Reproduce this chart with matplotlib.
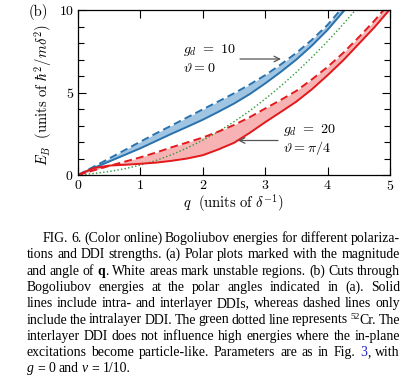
import re
import numpy as np
import matplotlib
matplotlib.use("Agg")
import matplotlib.pyplot as plt

plt.rcParams['mathtext.fontset'] = 'cm'
plt.rcParams['font.family'] = 'serif'
plt.rcParams['font.serif'] = ['cmr10', 'DejaVu Serif']
plt.rcParams['axes.formatter.use_mathtext'] = True
plt.rcParams['axes.unicode_minus'] = False

# ---------------- data ----------------
q = [0.0, 0.25, 0.5, 0.75, 1.0, 1.25, 1.5, 1.75, 2.0, 2.25, 2.5,
     2.75, 3.0, 3.25, 3.5, 3.75, 4.0, 4.25, 4.5, 4.75, 5.0]
blue_dashed = [0, 0.50, 1.00, 1.51, 2.02, 2.52, 3.00, 3.49, 3.98, 4.46, 4.95,
               5.48, 6.05, 6.70, 7.40, 8.20, 9.10, 10.20, 11.3, 12.5, 13.8]
blue_solid = [0, 0.42, 0.82, 1.22, 1.62, 2.06, 2.50, 2.92, 3.35, 3.83, 4.33,
              4.90, 5.55, 6.25, 7.00, 7.85, 8.80, 9.90, 11.0, 12.2, 13.5]
green_dotted = [0, 0.09, 0.21, 0.38, 0.60, 0.88, 1.23, 1.64, 2.11, 2.63, 3.23,
                3.88, 4.61, 5.39, 6.23, 7.14, 8.11, 9.14, 10.23, 11.4, 12.6]
red_dashed = [0, 0.28, 0.55, 0.81, 1.07, 1.36, 1.68, 1.97, 2.27, 2.63, 3.03,
              3.50, 4.03, 4.55, 5.10, 5.80, 6.55, 7.40, 8.35, 9.35, 10.45]
red_solid = [0, 0.42, 0.57, 0.62, 0.68, 0.75, 0.86, 1.00, 1.20, 1.55, 1.95,
             2.55, 3.20, 3.82, 4.45, 5.20, 6.05, 6.95, 7.95, 8.95, 10.05]

x_ticks = [0, 1, 2, 3, 4, 5]
y_ticks = [0, 5, 10]

caption_lines = [
    "FIG. 6. (Color online) Bogoliubov energies for different polariza-",
    "tions and DDI strengths. (a) Polar plots marked with the magnitude",
    "and angle of **q**. White areas mark unstable regions. (b) Cuts through",
    "Bogoliubov energies at the polar angles indicated in (a). Solid",
    "lines include intra- and interlayer DDIs, whereas dashed lines only",
    "include the intralayer DDI. The green dotted line represents ^52^Cr. The",
    "interlayer DDI does not influence high energies where the in-plane",
    "excitations become particle-like. Parameters are as in Fig. {3}, with",
    "*g* = 0 and *\u03bd* = 1/10.",
]

# ---------------- figure ----------------
W, H = 411, 380
fig = plt.figure(figsize=(W / 100, H / 100), dpi=100)
ax = fig.add_axes([78 / W, 1 - 175 / H, 312 / W, 165 / H])

BLUE = '#2a72ad'
BLUE_F = '#9fc5e2'
RED = '#e3191c'
RED_F = '#f7b3b3'
GREEN = '#2a9a3a'

ax.fill_between(q, blue_solid, blue_dashed, color=BLUE_F, lw=0)
ax.fill_between(q, red_solid, red_dashed, color=RED_F, lw=0)
ax.plot(q, green_dotted, ls=(0, (1, 1.6)), color=GREEN, lw=1.0)
ax.plot(q, blue_solid, color=BLUE, lw=1.4)
ax.plot(q, blue_dashed, color=BLUE, lw=1.4, ls=(0, (4, 2.2)))
ax.plot(q, red_solid, color=RED, lw=1.4)
ax.plot(q, red_dashed, color=RED, lw=1.4, ls=(0, (4, 2.2)))

ax.set_xlim(0, 5)
ax.set_ylim(0, 10)
ax.set_xticks(x_ticks)
ax.set_yticks(y_ticks)
ax.set_yticks(range(0, 11), minor=True)
ax.tick_params(which='both', direction='in', top=True, right=True,
               labelsize=10, pad=3, width=0.8)
ax.tick_params(which='major', length=6)
ax.tick_params(which='minor', length=4)
for s in ax.spines.values():
    s.set_linewidth(0.9)

fig.text(43 / W, 1 - 95 / H, r"$E_B\ \ (\mathrm{units\ of\ }\hbar^2/m\delta^2)$",
         rotation=90, ha='center', va='center', fontsize=10.5)
fig.text(234 / W, 1 - 203 / H, r"$q\ \ (\mathrm{units\ of\ }\delta^{-1})$",
         ha='center', va='center', fontsize=10.5)
fig.text(38 / W, 1 - 12 / H, "(b)", ha='center', va='center', fontsize=10.5)

fig.text(183 / W, 1 - 50 / H, r"$g_d\ =\ 10$", ha='left', va='center', fontsize=10.2)
fig.text(183 / W, 1 - 68 / H, r"$\vartheta = 0$", ha='left', va='center', fontsize=10.2)
fig.text(283 / W, 1 - 130 / H, r"$g_d\ =\ 20$", ha='left', va='center', fontsize=10.2)
fig.text(283 / W, 1 - 148 / H, r"$\vartheta = \pi/4$", ha='left', va='center', fontsize=10.2)
ax.annotate("", xy=(281 / W, 1 - 59 / H), xytext=(240 / W, 1 - 59 / H),
            xycoords='figure fraction', textcoords='figure fraction',
            arrowprops=dict(arrowstyle='->', color='#555555', lw=0.9,
                            shrinkA=0, shrinkB=0))
ax.annotate("", xy=(238 / W, 1 - 140.5 / H), xytext=(278 / W, 1 - 140.5 / H),
            xycoords='figure fraction', textcoords='figure fraction',
            arrowprops=dict(arrowstyle='->', color='#555555', lw=0.9,
                            shrinkA=0, shrinkB=0))

# ---------------- caption (justified) ----------------
CAP_FONT = 'Liberation Serif'
CAP_SIZE = 9.9
renderer = fig.canvas.get_renderer()
pat = re.compile(r'(\*\*[^*]+\*\*|\*[^*]+\*|\^[^^]+\^|\{[^}]+\})')


def segments(word):
    out = []
    for part in pat.split(word):
        if not part:
            continue
        if part.startswith('**'):
            out.append((part[2:-2], dict(weight='bold')))
        elif part.startswith('*'):
            out.append((part[1:-1], dict(style='italic')))
        elif part.startswith('^'):
            out.append((part[1:-1], dict(size=CAP_SIZE * 0.68, dy=4.5)))
        elif part.startswith('{'):
            out.append((part[1:-1], dict(color='#2020c0')))
        else:
            out.append((part, {}))
    return out


def make_word(word):
    items = []
    width = 0.0
    for txt, props in segments(word):
        p = dict(props)
        dy = p.pop('dy', 0)
        size = p.pop('size', CAP_SIZE)
        t = fig.text(0, 0, txt, fontsize=size, family=CAP_FONT,
                     ha='left', va='baseline', **p)
        w = t.get_window_extent(renderer).width
        items.append((t, width, dy))
        width += w
    return items, width


sp = fig.text(0, 0, "a a", family=CAP_FONT, fontsize=CAP_SIZE)
sp2 = fig.text(0, 0, "aa", family=CAP_FONT, fontsize=CAP_SIZE)
space_w = sp.get_window_extent(renderer).width - sp2.get_window_extent(renderer).width
sp.remove()
sp2.remove()

LEFT, RIGHT = 26.5, 400.0
base0, lh = 242.0, 16.3
for i, line in enumerate(caption_lines):
    x0 = 43.0 if i == 0 else LEFT
    words = [make_word(w) for w in line.split(' ')]
    total = sum(w for _, w in words)
    last = i == len(caption_lines) - 1
    gap = space_w if last else (RIGHT - x0 - total) / (len(words) - 1)
    x = x0
    yb = base0 + i * lh
    for items, w in words:
        for t, off, dy in items:
            t.set_position(((x + off) / W, 1 - (yb - dy) / H))
        x += w + gap

fig.savefig("out.png", dpi=100)
